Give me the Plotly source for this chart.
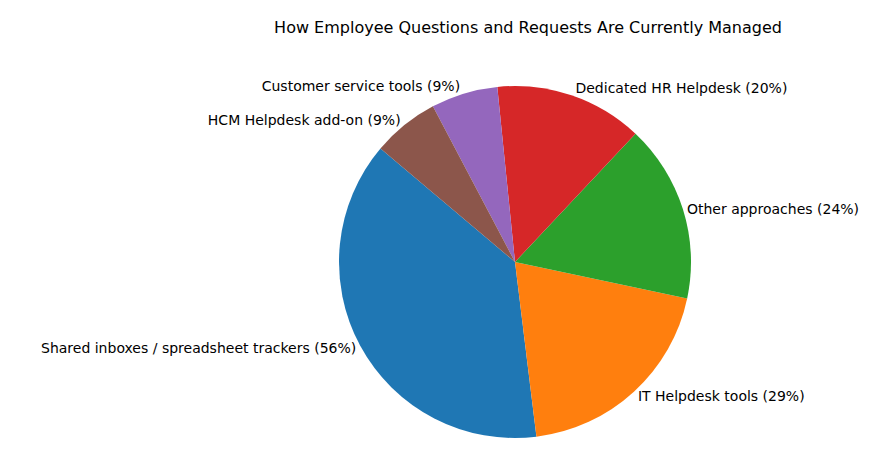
import plotly.graph_objects as go

labels = ["Shared inboxes / spreadsheet trackers", "IT Helpdesk tools", "Other approaches",
          "Dedicated HR Helpdesk", "Customer service tools", "HCM Helpdesk add-on"]
values = [56, 29, 24, 20, 9, 9]
colors = ["#1f77b4", "#ff7f0e", "#2ca02c", "#d62728", "#9467bd", "#8c564b"]

fig = go.Figure(go.Pie(
    labels=labels, values=values, sort=False,
    direction="counterclockwise", rotation=-187,
    marker=dict(colors=colors),
    text=[f"{l} ({v}%)" for l, v in zip(labels, values)],
    textinfo="text", textposition="outside",
    textfont=dict(family="DejaVu Sans", size=14, color="black"),
    domain=dict(x=[331 / 880, 683 / 880], y=[28 / 458, 380 / 458]),
    automargin=False, hoverinfo="label+value",
))
fig.update_layout(
    width=880, height=458, showlegend=False,
    margin=dict(l=0, r=0, t=0, b=0),
    paper_bgcolor="white",
    title=dict(text="How Employee Questions and Requests Are Currently Managed",
               x=520 / 880, xanchor="center", y=1 - 19 / 458, yanchor="middle",
               font=dict(family="DejaVu Sans", size=16, color="black")),
)
fig.write_html("out.html")
